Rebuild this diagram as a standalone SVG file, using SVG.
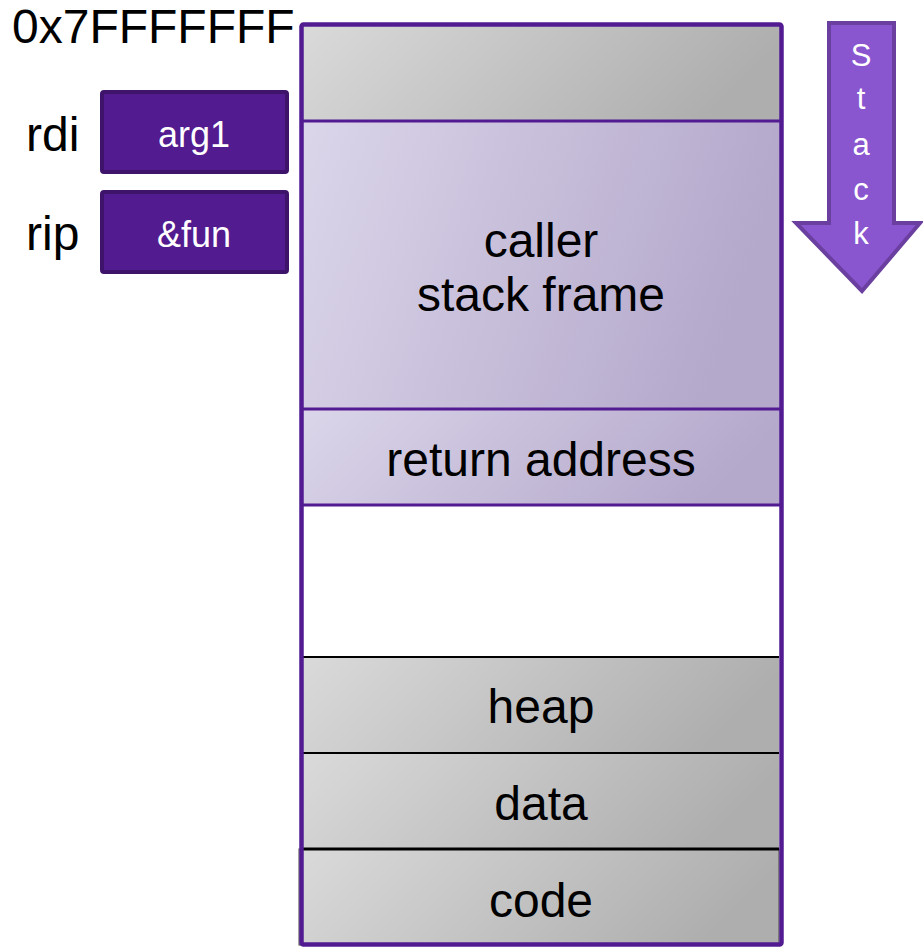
<svg xmlns="http://www.w3.org/2000/svg" width="923" height="947" viewBox="0 0 923 947">
<defs>
<linearGradient id="grey" x1="0" y1="0" x2="1" y2="0.2">
<stop offset="0" stop-color="#dadada"/>
<stop offset="1" stop-color="#aeaeae"/>
</linearGradient>
<linearGradient id="lav" x1="0" y1="0" x2="1" y2="0.2">
<stop offset="0" stop-color="#dbd6ea"/>
<stop offset="1" stop-color="#b4a8cb"/>
</linearGradient>
<style>
text{font-family:"Liberation Sans",Arial,sans-serif;}
.lbl{font-size:48px;fill:#000;}
.mid{font-size:48px;fill:#000;text-anchor:middle;}
.reg{fill:#521b8f;stroke:#3d1469;stroke-width:4;}
.regt{font-size:36px;fill:#fff;text-anchor:middle;}
.stk{font-size:31px;fill:#fff;text-anchor:middle;}
</style>
</defs>
<g id="address">
<text class="lbl" x="12" y="43">0x7FFFFFFF</text>
</g>
<g id="rdi">
<text class="lbl" x="26" y="151">rdi</text>
<rect class="reg" x="102" y="92" width="185" height="80" rx="2"/>
<text class="regt" x="194" y="147">arg1</text>
</g>
<g id="rip">
<text class="lbl" x="26" y="250">rip</text>
<rect class="reg" x="102" y="192" width="185" height="80" rx="2"/>
<text class="regt" x="194" y="247">&amp;fun</text>
</g>
<g id="memory">
<rect x="302" y="25" width="479" height="96" fill="url(#grey)"/>
<g id="caller-frame">
<rect x="302" y="121" width="479" height="288" fill="url(#lav)"/>
<text class="mid" x="541" y="257">caller</text>
<text class="mid" x="541" y="311">stack frame</text>
</g>
<g id="return-address">
<rect x="302" y="409" width="479" height="96" fill="url(#lav)"/>
<text class="mid" x="541" y="476">return address</text>
</g>
<rect x="302" y="505" width="479" height="152" fill="#fff"/>
<g id="heap">
<rect x="302" y="657" width="477" height="96" fill="url(#grey)"/>
<text class="mid" x="541" y="723">heap</text>
</g>
<g id="data">
<rect x="302" y="753" width="477" height="96" fill="url(#grey)"/>
<text class="mid" x="541" y="820">data</text>
</g>
<g id="code">
<rect x="299" y="849" width="480" height="96" fill="url(#grey)" stroke="#444" stroke-width="1"/>
<text class="mid" x="541" y="917">code</text>
</g>
<line x1="302" y1="121" x2="781" y2="121" stroke="#521b92" stroke-width="3"/>
<line x1="302" y1="409" x2="781" y2="409" stroke="#521b92" stroke-width="3"/>
<line x1="302" y1="505" x2="781" y2="505" stroke="#521b92" stroke-width="3"/>
<line x1="302" y1="657" x2="779" y2="657" stroke="#000" stroke-width="2"/>
<line x1="302" y1="753" x2="779" y2="753" stroke="#000" stroke-width="2"/>
<line x1="302" y1="849" x2="779" y2="849" stroke="#000" stroke-width="3"/>
<rect x="301.5" y="24.5" width="480" height="920" fill="none" stroke="#521b92" stroke-width="4.5" rx="2"/>
</g>
<g id="stack-arrow">
<path d="M829,23 L894,23 L894,223 L920,223 L862,291 L796,223 L829,223 Z" fill="#8a56d0" stroke="#6a3f9f" stroke-width="4" stroke-linejoin="miter"/>
<text class="stk" x="861" y="66">S</text>
<text class="stk" x="861" y="109">t</text>
<text class="stk" x="861" y="155">a</text>
<text class="stk" x="861" y="200">c</text>
<text class="stk" x="861" y="244">k</text>
</g>
</svg>
